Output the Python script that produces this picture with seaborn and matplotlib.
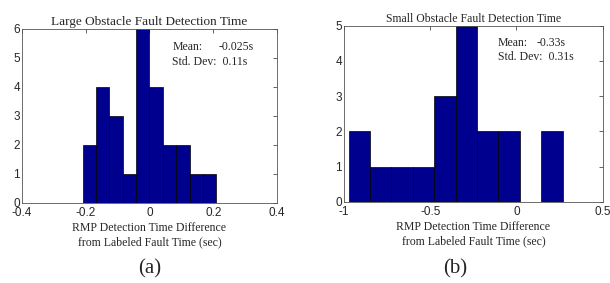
import matplotlib
matplotlib.use('Agg')
import matplotlib.pyplot as plt
import numpy as np
import seaborn as sns

# ── data ──────────────────────────────────────────────────────────────
large_edges = [-0.21, -0.168, -0.126, -0.084, -0.042, 0.0, 0.042, 0.084, 0.126, 0.168, 0.21]
large_counts = [2, 4, 3, 1, 6, 4, 2, 2, 1, 1]
large_xticks = [-0.4, -0.2, 0, 0.2, 0.4]
large_xticklabels = ['-0.4', '-0.2', '0', '0.2', '0.4']
large_yticks = [0, 1, 2, 3, 4, 5, 6]

small_edges = [-0.973, -0.849, -0.725, -0.601, -0.477, -0.353, -0.229, -0.105, 0.019, 0.143, 0.267]
small_counts = [2, 1, 1, 1, 3, 5, 2, 2, 0, 2]
small_xticks = [-1, -0.5, 0, 0.5]
small_xticklabels = ['-1', '-0.5', '0', '0.5']
small_yticks = [0, 1, 2, 3, 4, 5]

sns.set_style('white')
plt.rcParams['axes.unicode_minus'] = False

SERIF = 'Liberation Serif'
SANS = 'Liberation Sans'
BAR = '#00008F'

fig = plt.figure(figsize=(6.1, 2.83), dpi=100)
ax_l = fig.add_axes([0.036, 0.283, 0.418, 0.615])
ax_r = fig.add_axes([0.564, 0.287, 0.424, 0.622])


def draw(ax, edges, counts, xticks, xticklabels, yticks, title, mean_txt, std_txt,
         title_size, tx, vx, y1, y2):
    centers = [(a + b) / 2 for a, b in zip(edges[:-1], edges[1:])]
    sns.histplot(x=centers, weights=counts, bins=edges, ax=ax, color=BAR,
                 edgecolor='black', linewidth=0.5, alpha=1, legend=False)
    ax.set_xlim(xticks[0], xticks[-1])
    ax.set_ylim(yticks[0], yticks[-1])
    ax.set_xticks(xticks)
    ax.set_xticklabels(xticklabels, fontfamily=SANS, fontsize=8.5)
    ax.set_yticks(yticks)
    ax.set_yticklabels([str(v) for v in yticks], fontfamily=SANS, fontsize=8.5)
    ax.tick_params(direction='in', length=3, width=0.5, top=True, right=True,
                   labelright=False, labeltop=False)
    ax.tick_params(axis='x', pad=3)
    ax.tick_params(axis='y', pad=1.5)
    for s in ax.spines.values():
        s.set_linewidth(0.6)
        s.set_color('#555555')
    ax.set_ylabel('')
    ax.set_xlabel('RMP Detection Time Difference\nfrom Labeled Fault Time (sec)',
                  fontfamily=SERIF, fontsize=8.5, linespacing=1.25, labelpad=2)
    ax.set_title(title, fontfamily=SERIF, fontsize=title_size, pad=3)
    kw = dict(transform=ax.transAxes, fontfamily=SERIF, fontsize=8.5, va='center')
    ax.text(tx, y1, 'Mean:', **kw)
    ax.text(vx, y1, mean_txt, **kw)
    ax.text(tx, y2, 'Std. Dev:  ' + std_txt, **kw)


draw(ax_l, large_edges, large_counts, large_xticks, large_xticklabels, large_yticks,
     'Large Obstacle Fault Detection Time', '-0.025s', '0.11s', 9.5,
     0.59, 0.77, 0.895, 0.81)
draw(ax_r, small_edges, small_counts, small_xticks, small_xticklabels, small_yticks,
     'Small Obstacle Fault Detection Time', '-0.33s', '0.31s', 8.5,
     0.595, 0.745, 0.9, 0.82)

fig.text(0.245, 0.035, '(a)', fontfamily=SERIF, fontsize=15, ha='center')
fig.text(0.746, 0.035, '(b)', fontfamily=SERIF, fontsize=15, ha='center')

plt.savefig('out.png', dpi=100)
plt.close()
